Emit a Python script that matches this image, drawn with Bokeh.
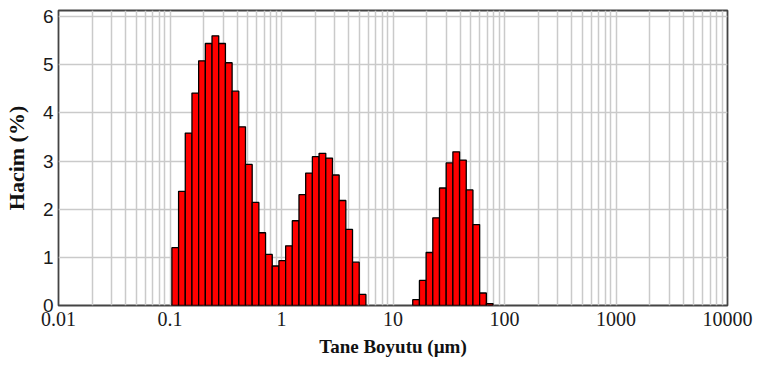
from bokeh.plotting import figure
from bokeh.models import FixedTicker, ColumnDataSource
from bokeh.embed import file_html
from bokeh.resources import INLINE

# Size classes (µm), lower/upper bounds of each class
size_edges = [
    0.1040, 0.1194, 0.1371, 0.1574, 0.1807, 0.2075, 0.2382, 0.2735, 0.3141,
    0.3606, 0.4140, 0.4753, 0.5458, 0.6266, 0.7194, 0.8260, 0.9484, 1.089,
    1.250, 1.435, 1.648, 1.892, 2.173, 2.495, 2.864, 3.289, 3.776, 4.335,
    4.977, 5.715, 6.561, 7.534, 8.650, 9.931, 11.40, 13.09, 15.03, 17.26,
    19.82, 22.75, 26.12, 29.99, 34.44, 39.54, 45.39, 52.12, 59.84, 68.71,
    78.89,
]

# Volume fraction (%) in each size class
volume_pct = [
    1.20, 2.37, 3.58, 4.41, 5.08, 5.44, 5.60, 5.44, 5.04, 4.45, 3.71, 2.93,
    2.14, 1.51, 1.06, 0.82, 0.93, 1.24, 1.76, 2.30, 2.75, 3.09, 3.16, 3.06,
    2.71, 2.18, 1.58, 0.90, 0.23,
    0.0, 0.0, 0.0, 0.0, 0.0, 0.0, 0.0,
    0.12, 0.52, 1.10, 1.82, 2.44, 2.96, 3.19, 3.02, 2.40, 1.68, 0.26, 0.04,
]

x_ticks = [0.01, 0.1, 1, 10, 100, 1000, 10000]
x_tick_labels = ["0.01", "0.1", "1", "10", "100", "1000", "10000"]
y_ticks = [0, 1, 2, 3, 4, 5, 6]
y_tick_labels = ["0", "1", "2", "3", "4", "5", "6"]

# keep only the occupied classes
lefts, rights, tops = [], [], []
for i, v in enumerate(volume_pct):
    if v > 0:
        lefts.append(size_edges[i])
        rights.append(size_edges[i + 1])
        tops.append(v)
src = ColumnDataSource(dict(left=lefts, right=rights, top=tops))

p = figure(
    width=757, height=365,
    x_axis_type="log",
    x_range=(0.01, 10000), y_range=(0, 6.125),
    output_backend="svg", toolbar_location=None,
    min_border_left=58, min_border_right=30,
    min_border_top=10, min_border_bottom=60,
)

minor = [m * d for d in x_ticks[:-1] for m in range(2, 10)]
p.xaxis.ticker = FixedTicker(ticks=x_ticks, minor_ticks=minor)
p.yaxis.ticker = FixedTicker(ticks=y_ticks)
p.xaxis.major_label_overrides = {float(t): s for t, s in zip(x_ticks, x_tick_labels)}
p.yaxis.major_label_overrides = {t: s for t, s in zip(y_ticks, y_tick_labels)}

# grid
p.xgrid.grid_line_color = "#cacaca"
p.xgrid.grid_line_width = 1.5
p.xgrid.minor_grid_line_color = "#cacaca"
p.xgrid.minor_grid_line_width = 1.5
p.ygrid.grid_line_color = "#cacaca"
p.ygrid.grid_line_width = 1.5

# frame
p.outline_line_color = "#444444"
p.outline_line_width = 1.8
p.outline_line_alpha = 1.0
p.background_fill_color = "white"
p.border_fill_color = "white"

for ax in (p.xaxis, p.yaxis):
    ax.axis_line_color = None
    ax.major_tick_line_color = None
    ax.minor_tick_line_color = None
    ax.major_tick_out = 0
    ax.major_tick_in = 0
    ax.minor_tick_out = 0
    ax.minor_tick_in = 0
    ax.major_label_text_color = "#1a1a1a"
    ax.axis_label_text_color = "#111111"
    ax.axis_label_text_font = "Liberation Serif"
    ax.axis_label_text_font_style = "bold"

p.xaxis.major_label_text_font = "Liberation Serif"
p.xaxis.major_label_text_font_size = "20px"
p.xaxis.major_label_standoff = 6
p.xaxis.axis_label = "Tane Boyutu (µm)"
p.xaxis.axis_label_text_font_size = "19px"
p.xaxis.axis_label_standoff = 7

p.yaxis.major_label_text_font = "Liberation Sans"
p.yaxis.major_label_text_font_size = "19px"
p.yaxis.major_label_standoff = 5
p.yaxis.axis_label = "Hacim (%)"
p.yaxis.axis_label_text_font_size = "22px"
p.yaxis.axis_label_standoff = 11

p.quad(left="left", right="right", bottom=0, top="top", source=src,
       fill_color="#ff0000", line_color="black", line_width=1.3)

open("out.html", "w").write(file_html(p, INLINE))
